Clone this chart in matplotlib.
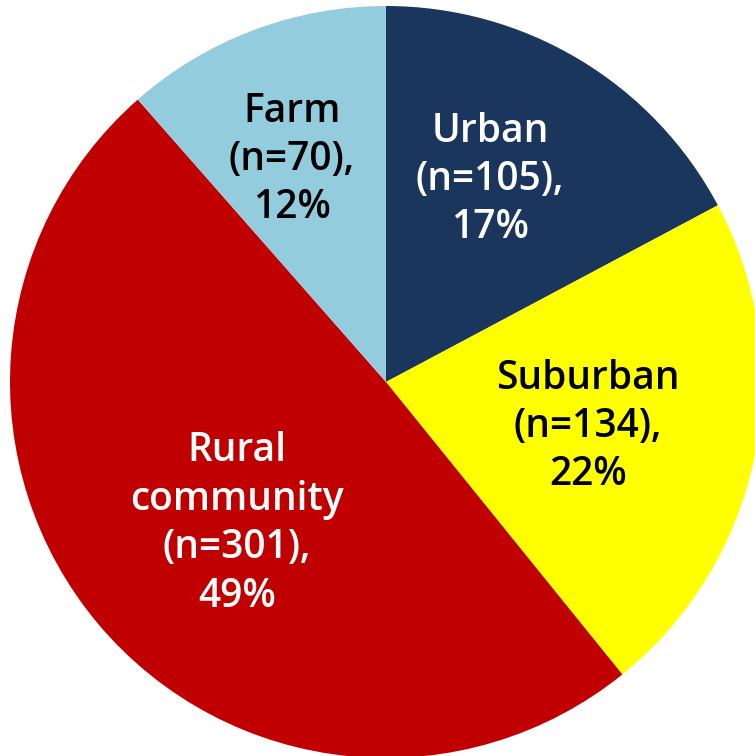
import matplotlib
matplotlib.use('Agg')
import matplotlib.pyplot as plt

# community type counts, clockwise from 12 o'clock
categories = ['Urban', 'Suburban', 'Rural\ncommunity', 'Farm']
counts = [105, 134, 301, 70]
percents = [17, 22, 49, 12]
colors = ['#1A365D', '#FFFF00', '#C00000', '#93CDDD']
text_colors = ['white', 'black', 'white', 'black']
# label centres in pixels (x, y from top)
label_px = [(490, 180), (588, 427), (237, 524), (292, 160)]

W, H = 755, 756
cx, cy, R = 386, 382, 376  # pixel centre and radius

fig = plt.figure(figsize=(W / 100, H / 100), dpi=100)
ax = fig.add_axes([0, 0, 1, 1])

wedges, _ = ax.pie(counts, colors=colors, startangle=90, counterclock=False,
                   radius=1, wedgeprops=dict(linewidth=0))

for cat, n, p, tc, (px, py) in zip(categories, counts, percents, text_colors, label_px):
    txt = '%s\n(n=%d),\n%d%%' % (cat, n, p)
    ax.text((px - cx) / R, (cy - py) / R, txt, ha='center', va='center',
            color=tc, fontsize=28, fontfamily='Open Sans', fontweight='semibold',
            linespacing=1.28)

ax.set_xlim(-cx / R, (W - cx) / R)
ax.set_ylim(-(H - cy) / R, cy / R)
ax.set_aspect('auto')
ax.axis('off')

fig.savefig('out.png', dpi=100)
